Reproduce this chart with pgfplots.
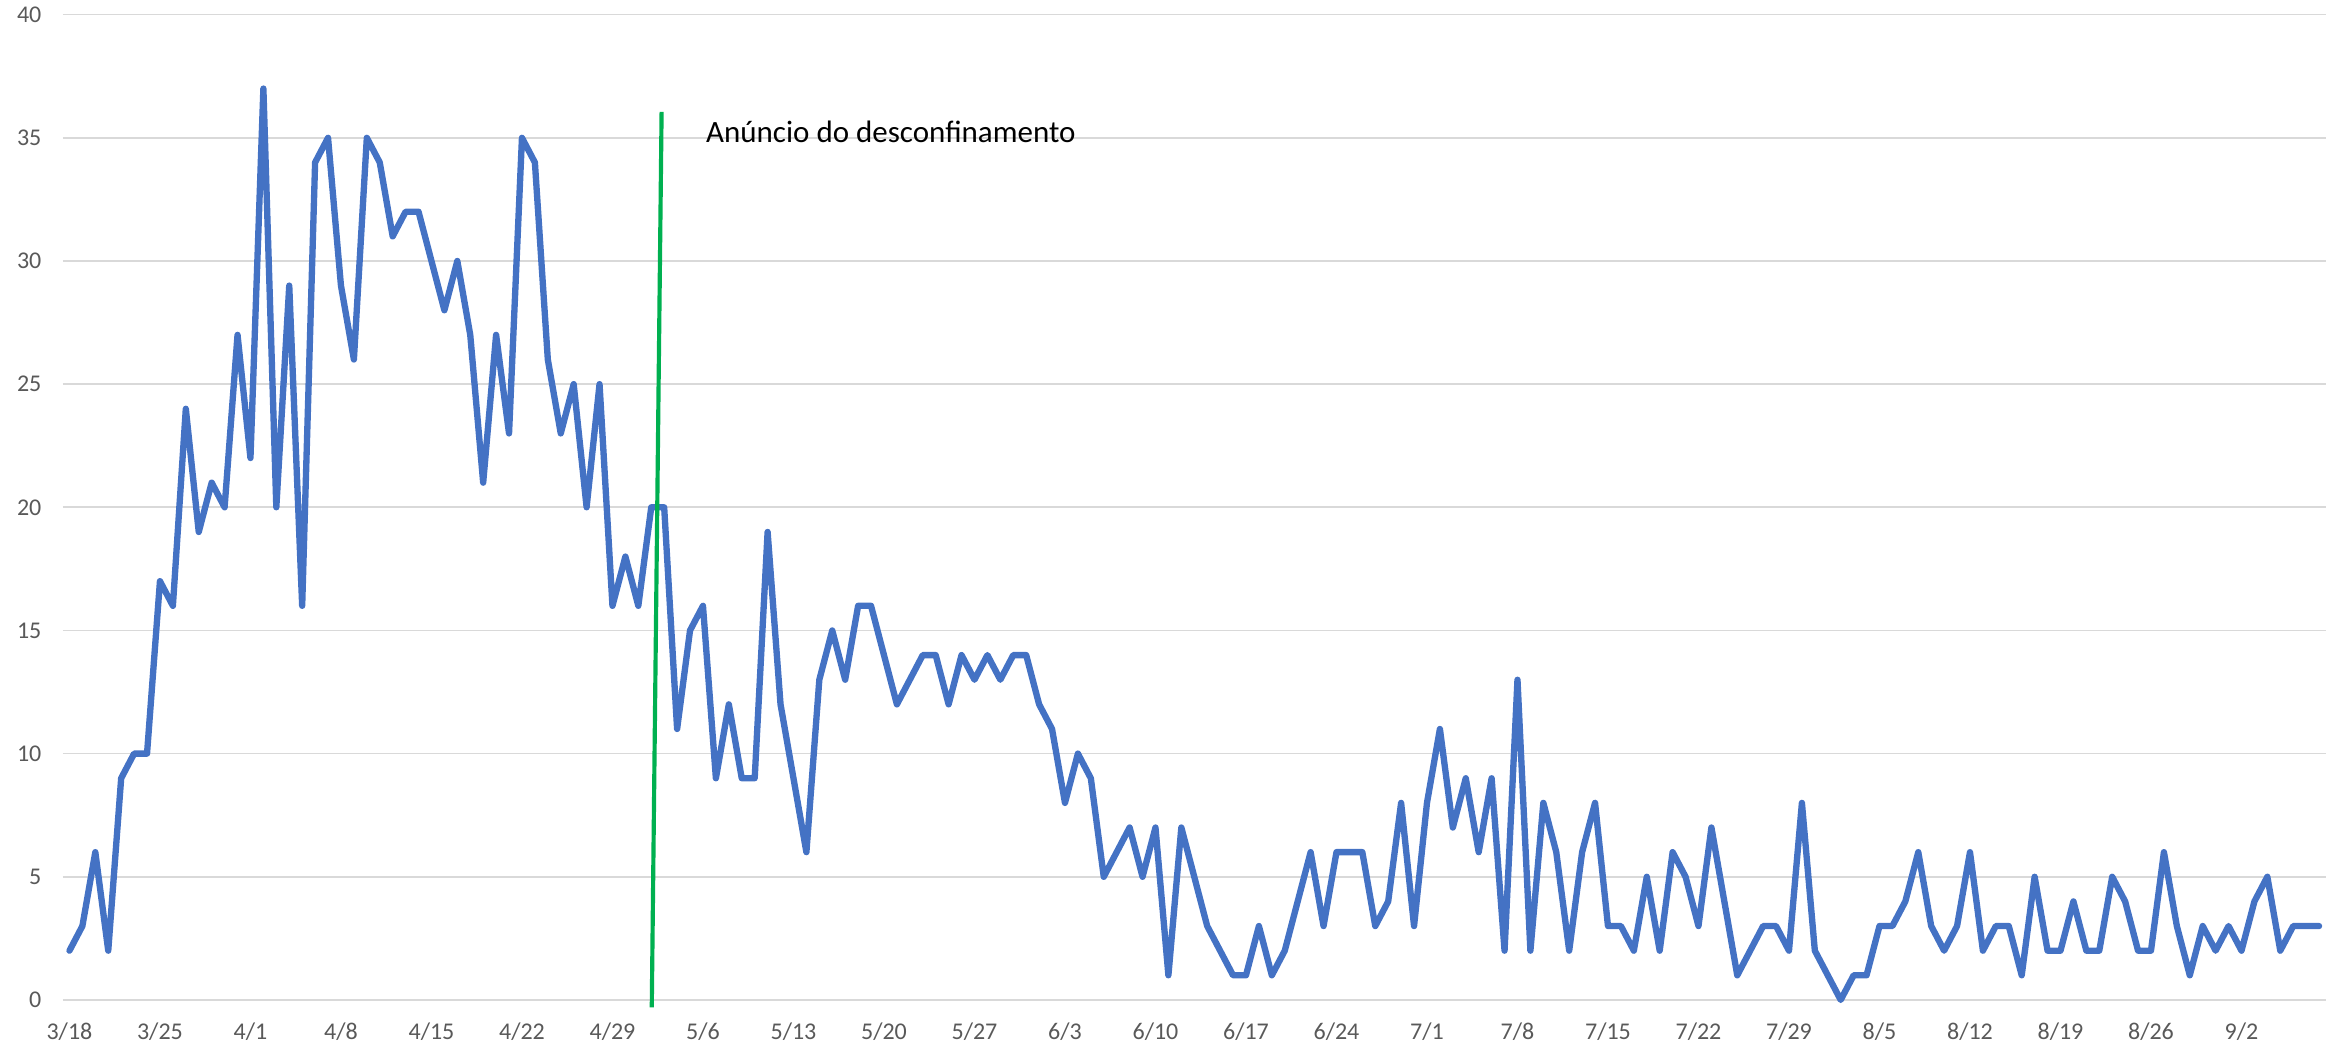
\documentclass[border=0pt]{standalone}
\usepackage{fontspec}
\setmainfont{Carlito}
\usepackage{pgfplots}
\usepackage{pgfplotstable}
\pgfplotsset{compat=1.18}
\definecolor{serie}{HTML}{4472C4}
\definecolor{marco}{HTML}{00B050}
\definecolor{grelha}{HTML}{D9D9D9}
\definecolor{eixo}{HTML}{595959}

% casos diarios, dia 0 = 18 de marco
\pgfplotstableread{
dia casos
0 2
1 3
2 6
3 2
4 9
5 10
6 10
7 17
8 16
9 24
10 19
11 21
12 20
13 27
14 22
15 37
16 20
17 29
18 16
19 34
20 35
21 29
22 26
23 35
24 34
25 31
26 32
27 32
28 30
29 28
30 30
31 27
32 21
33 27
34 23
35 35
36 34
37 26
38 23
39 25
40 20
41 25
42 16
43 18
44 16
45 20
46 20
47 11
48 15
49 16
50 9
51 12
52 9
53 9
54 19
55 12
56 9
57 6
58 13
59 15
60 13
61 16
62 16
63 14
64 12
65 13
66 14
67 14
68 12
69 14
70 13
71 14
72 13
73 14
74 14
75 12
76 11
77 8
78 10
79 9
80 5
81 6
82 7
83 5
84 7
85 1
86 7
87 5
88 3
89 2
90 1
91 1
92 3
93 1
94 2
95 4
96 6
97 3
98 6
99 6
100 6
101 3
102 4
103 8
104 3
105 8
106 11
107 7
108 9
109 6
110 9
111 2
112 13
113 2
114 8
115 6
116 2
117 6
118 8
119 3
120 3
121 2
122 5
123 2
124 6
125 5
126 3
127 7
128 4
129 1
130 2
131 3
132 3
133 2
134 8
135 2
136 1
137 0
138 1
139 1
140 3
141 3
142 4
143 6
144 3
145 2
146 3
147 6
148 2
149 3
150 3
151 1
152 5
153 2
154 2
155 4
156 2
157 2
158 5
159 4
160 2
161 2
162 6
163 3
164 1
165 3
166 2
167 3
168 2
169 4
170 5
171 2
172 3
173 3
174 3
}\dados

\begin{document}
\begin{tikzpicture}
\begin{axis}[
  scale only axis,
  width=678.8pt, height=295.6pt,
  xmin=-0.5, xmax=174.5,
  ymin=0, ymax=40,
  axis line style={draw=none},
  major tick length=0pt,
  xtick={0,7,...,168},
  xticklabels={3/18,3/25,4/1,4/8,4/15,4/22,4/29,5/6,5/13,5/20,5/27,6/3,6/10,
    6/17,6/24,7/1,7/8,7/15,7/22,7/29,8/5,8/12,8/19,8/26,9/2},
  ytick={0,5,...,40},
  ymajorgrids,
  grid style={grelha, line width=0.5pt},
  tick label style={font=\fontsize{7.2}{8.5}\selectfont, text=eixo},
  /pgf/number format/assume math mode=true,
  yticklabel style={anchor=east, inner sep=0pt},
  yticklabel shift=6.3pt,
  xticklabel style={anchor=base, inner sep=0pt},
  xticklabel shift=12pt,
  clip=false,
]
\addplot[serie, line width=1.9pt, line join=round, line cap=round]
  table[x=dia, y=casos] {\dados};
\addplot[marco, line width=1.25pt] coordinates {(45.04,-0.3) (45.8,36.05)};
\node[anchor=base west, inner sep=0pt, font=\fontsize{9.3}{11}\selectfont]
  at (axis cs:49.2,34.8) {Anúncio do desconfinamento};
\end{axis}
\pgfresetboundingbox
\path ([xshift=-18.9pt, yshift=-13.8pt]current axis.south west)
  rectangle ([xshift=2.25pt, yshift=4.4pt]current axis.north east);
\end{tikzpicture}
\end{document}
